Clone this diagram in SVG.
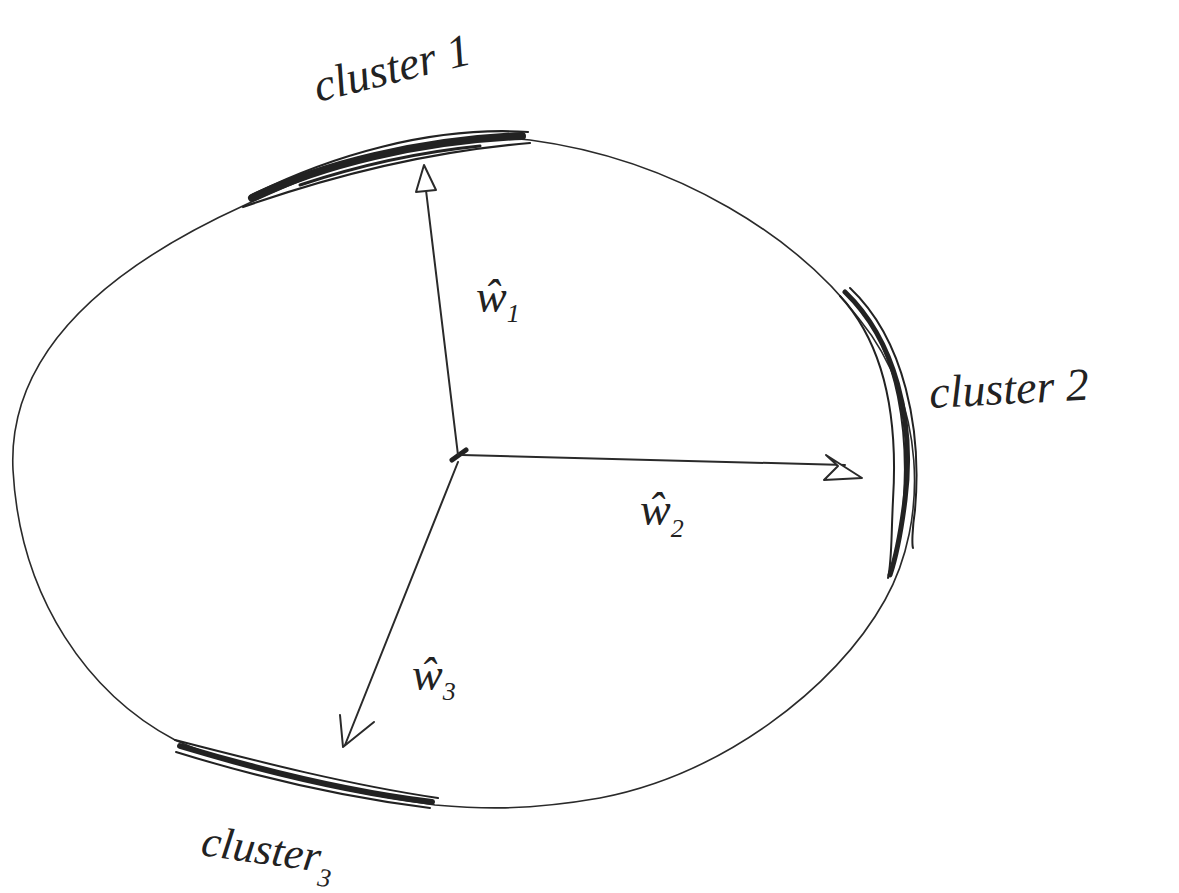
<svg xmlns="http://www.w3.org/2000/svg" width="1179" height="893" viewBox="0 0 1179 893">
<style>
.outline{fill:none;stroke:#2a2a2a;stroke-width:1.6}
.clu{fill:none;stroke:#222;stroke-linecap:round}
.vec{fill:none;stroke:#2a2a2a;stroke-width:2;stroke-linecap:round}
.head{fill:#fff;stroke:#2a2a2a;stroke-width:2;stroke-linejoin:round}
.lbl{font-family:"Liberation Serif",serif;font-style:italic;fill:#222}
</style>
<rect width="1179" height="893" fill="#fff"/>
<g id="circle">
<path class="outline" d="M245,205 C320,170 420,128 530,140 C680,160 800,240 860,320 C925,400 930,520 885,600 C835,690 720,775 600,798 C520,812 470,808 435,805 C330,790 230,765 175,740 C90,695 20,600 13,470 C8,370 80,280 245,205 Z"/>
</g>
<g id="cluster1">
<path class="clu" stroke-width="8" d="M252,198 C320,165 420,140 522,136"/>
<path class="clu" stroke-width="2.2" d="M243,207 C320,180 420,152 530,143"/>
<path class="clu" stroke-width="2.2" d="M250,196 C330,156 430,126 528,132"/>
<path class="clu" stroke-width="3" d="M300,185 C360,165 420,152 480,146"/>
<text class="lbl" font-size="46" transform="translate(318,102) rotate(-14)">cluster 1</text>
</g>
<g id="cluster2">
<path class="clu" stroke-width="5" d="M845,292 C895,340 915,420 905,500 C900,540 895,560 890,575"/>
<path class="clu" stroke-width="2" d="M840,296 C885,345 898,420 893,500 C891,540 892,560 888,578"/>
<path class="clu" stroke-width="2" d="M850,288 C905,340 922,430 915,510 C912,530 912,545 913,548"/>
<path class="clu" stroke-width="2" d="M860,310 C895,350 912,430 902,520"/>
<text class="lbl" font-size="46" transform="translate(930,408) rotate(-3)">cluster 2</text>
</g>
<g id="cluster3">
<path class="clu" stroke-width="6" d="M180,746 C260,770 350,792 432,802"/>
<path class="clu" stroke-width="2" d="M175,740 C260,762 350,785 438,798"/>
<path class="clu" stroke-width="2" d="M176,752 C260,778 350,798 430,808"/>
<text class="lbl" font-size="44" transform="translate(200,855) rotate(8)">cluster<tspan font-size="26" dy="14">3</tspan></text>
</g>
<g id="center">
<path d="M452,460 L466,450" stroke="#222" stroke-width="5" stroke-linecap="round"/>
</g>
<g id="connectors">
<path class="vec" d="M458,455 L425,182"/>
<path class="head" d="M424,165 L436,190 L416,192 Z"/>
<path class="vec" d="M462,455 L845,465"/>
<path class="head" d="M862,478 L824,480 L838,466 L826,455 Z"/>
<path class="vec" d="M458,462 L345,745"/>
<path class="vec" d="M343,747 L340,715 M343,747 L374,722"/>
</g>
<g id="labels">
<text class="lbl" font-size="46" x="476" y="312">ŵ<tspan font-size="26" dy="10">1</tspan></text>
<text class="lbl" font-size="46" x="640" y="525">ŵ<tspan font-size="26" dy="12">2</tspan></text>
<text class="lbl" font-size="46" x="412" y="690">ŵ<tspan font-size="26" dy="10">3</tspan></text>
</g>
</svg>
